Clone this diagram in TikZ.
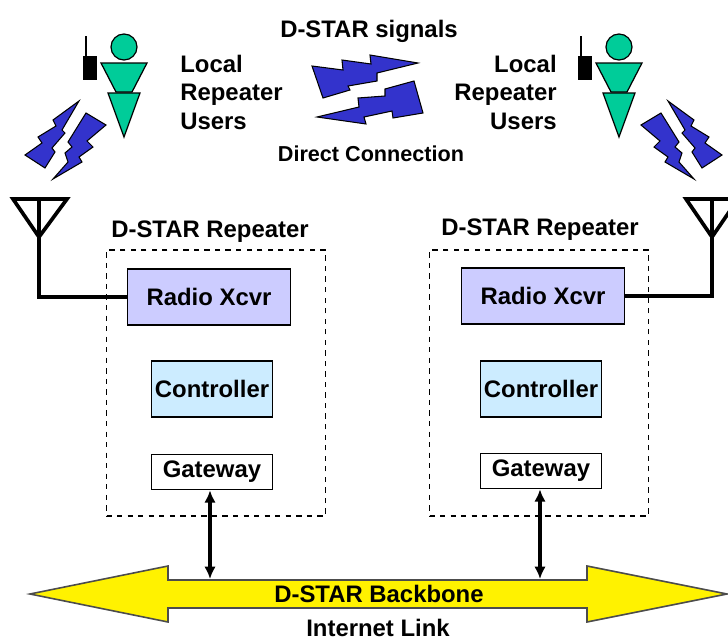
\documentclass[tikz,border=0pt]{standalone}
\usepackage{fontspec}
\setmainfont{Liberation Sans}
\usetikzlibrary{arrows.meta}
\definecolor{boltblue}{RGB}{51,51,204}
\definecolor{mangreen}{RGB}{0,204,153}
\definecolor{xcvrblue}{RGB}{204,204,255}
\definecolor{ctrlblue}{RGB}{204,236,255}
\tikzset{
  lbl/.style={font=\bfseries\fontsize{13.6}{13.6}\selectfont,inner sep=0pt},
  bolt/.style={draw=black,fill=boltblue,line width=0.6pt},
  man/.style={draw=black,fill=mangreen,line width=0.7pt},
  block/.style={draw=black,line width=0.9pt,inner sep=0pt,font=\bfseries\fontsize{13.6}{13.6}\selectfont},
  rptbox/.style={draw=black,dashed,line width=0.7pt,inner sep=0pt},
  feed/.style={line width=2.1pt},
  dbl/.style={line width=1.9pt,{Latex[length=7pt,width=6.5pt]}-{Latex[length=7pt,width=6.5pt]}},
}
\newcommand{\manfig}[1]{
  \draw[man] (#1+0,47) circle (13);
  \draw[man] (#1-23,63) -- (#1+23,63) -- (#1+8,92) -- (#1-8,92) -- cycle;
  \draw[man] (#1-16,93) -- (#1+16,93) -- (#1,137) -- cycle;
  \fill[black] (#1-41,56) rectangle (#1-27,80);
  \draw[line width=0.7pt] (#1-38,36) -- (#1-38,56);
}
\newcommand{\sidebolts}{
  \draw[bolt] (79,101) -- (53,120) -- (56,126) -- (38,137) -- (42,143) -- (25,155) -- (45,168) -- (55,152) -- (52,148) -- (65,133) -- (62,130) -- cycle;
  \draw[bolt] (86,113) -- (106,125) -- (87,141) -- (93,147) -- (79,157) -- (82,162) -- (53,179) -- (68,162) -- (65,153) -- (72,147) -- (68,142) -- cycle;
}
\begin{document}
\begin{tikzpicture}[x=0.02cm,y=-0.02cm]
\useasboundingbox (0,0) rectangle (728,639);

% users
\manfig{124}
\manfig{619}

\node[lbl,anchor=base west] (localL) at (180,72) {Local};
\node[lbl,anchor=base west] (rptL) at (180,100) {Repeater};
\node[lbl,anchor=base west] (usersL) at (180,130) {Users};
\node[lbl,anchor=base east] (localR) at (557,72) {Local};
\node[lbl,anchor=base east] (rptR) at (557,100) {Repeater};
\node[lbl,anchor=base east] (usersR) at (557,130) {Users};

% signals
\node[lbl,anchor=base] (signals) at (369,37) {D-STAR signals};
\node[lbl,anchor=base,font=\bfseries\fontsize{12.3}{12.3}\selectfont] (direct) at (371,161) {Direct Connection};
\draw[bolt] (312,66) -- (343,70) -- (342,60) -- (371,64) -- (370,55) -- (418,63) -- (377,73) -- (377,81) -- (348,86) -- (350,90) -- (323,98) -- cycle;
\draw[bolt] (317,117) -- (359,107) -- (358,98) -- (385,96) -- (385,89) -- (414,81) -- (423,113) -- (393,118) -- (392,111) -- (364,117) -- (366,124) -- cycle;

% side bolts
\sidebolts
\begin{scope}[shift={(747,0)},xscale=-1]
\sidebolts
\end{scope}

% repeaters
\node[lbl,anchor=base] (rptA) at (210,237) {D-STAR Repeater};
\node[lbl,anchor=base] (rptB) at (540,235) {D-STAR Repeater};
\node[rptbox,minimum width=219*0.02cm,minimum height=266*0.02cm] (boxA) at (216,383) {};
\node[rptbox,minimum width=219*0.02cm,minimum height=266*0.02cm] (boxB) at (539,383) {};

\node[block,fill=xcvrblue,minimum width=163*0.02cm,minimum height=56*0.02cm] (xcvrA) at (209,297) {Radio Xcvr};
\node[block,fill=xcvrblue,minimum width=163*0.02cm,minimum height=56*0.02cm] (xcvrB) at (543,296) {Radio Xcvr};
\node[block,fill=ctrlblue,minimum width=121*0.02cm,minimum height=56*0.02cm] (ctrlA) at (212,389) {Controller};
\node[block,fill=ctrlblue,minimum width=121*0.02cm,minimum height=56*0.02cm] (ctrlB) at (541,389) {Controller};
\node[block,fill=white,minimum width=121*0.02cm,minimum height=35*0.02cm] (gwA) at (212,472) {Gateway};
\node[block,fill=white,minimum width=121*0.02cm,minimum height=35*0.02cm] (gwB) at (541,471) {Gateway};

% antennas
\coordinate (antA) at (39,237);
\coordinate (antB) at (712,237);
\draw[feed] (13,199) -- (67,199) -- (antA) -- cycle;
\draw[feed] (39,199) -- (antA) -- (39,297) -- (xcvrA.west);
\draw[feed] (686,199) -- (738,199) -- (antB) -- cycle;
\draw[feed] (712,199) -- (antB) -- (712,296) -- (xcvrB.east);

% backbone
\draw[draw=black!70,fill=yellow,line width=0.9pt] (30,594) -- (168,566) -- (168,580) -- (587,580) -- (587,566) -- (727,594) -- (587,622) -- (587,608) -- (168,608) -- (168,622) -- cycle;
\node[lbl,anchor=base] (bone) at (379,602) {D-STAR Backbone};
\node[lbl,anchor=base] (inet) at (378,636) {Internet Link};
\coordinate (busA) at (210,579);
\coordinate (busB) at (540,579);
\draw[dbl] (gwA.south -| busA) -- (busA);
\draw[dbl] (gwB.south -| busB) -- (busB);
\end{tikzpicture}
\end{document}
